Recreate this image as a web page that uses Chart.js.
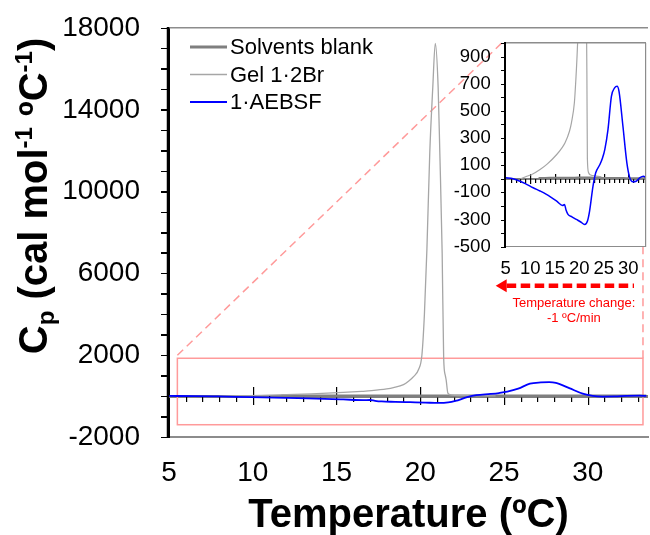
<!DOCTYPE html>
<html lang="en">
<head>
<meta charset="UTF-8">
<title>Cp vs Temperature</title>
<script src="https://cdn.jsdelivr.net/npm/chart.js"></script>
<style>
body { margin: 0; background: #fff; }
#wrap { position: relative; width: 650px; height: 535px; }
#main { position: absolute; left: 0; top: 0; }
#inset { position: absolute; left: 440px; top: 30px; }
</style>
</head>
<body>
<div id="wrap">
  <canvas id="main" width="650" height="535"></canvas>
  <canvas id="inset" width="210" height="310"></canvas>
</div>
<script>
// ---- data ----
const blankT  = [11.7, 13, 15, 17, 19, 21, 23, 25, 27, 29, 31, 33.5];
const blankCp = [6, 6, 8, 8, 8, 10, 8, 6, 6, 5, 4, 4];

const gelT  = [8.0, 9.3, 10.5, 12.0, 13.5, 15.4, 16.5, 17.1, 18.0, 18.4, 19.0, 19.3, 19.6, 19.9, 20.1, 20.25, 20.4, 20.57, 20.75, 20.9, 21.07, 21.17, 21.31, 21.4, 21.5, 21.55, 21.65, 21.9, 22.2, 23.5, 24.5];
const gelCp = [0, 19, 35, 68, 110, 179, 230, 265, 350, 412, 560, 730, 950, 1300, 2000, 4000, 7200, 11900, 15100, 17250, 15100, 11900, 7000, 1850, 1000, 780, 150, 45, 30, 20, 15];

const aebsfT  = [5.0, 6.5, 7.9, 9.0, 10.6, 12.0, 13.3, 15.4, 16.6, 17.0, 17.3, 17.7, 18.5, 19.4, 20.3, 21.1, 21.67, 22.1, 22.8, 23.35, 24.2, 24.7, 25.2, 25.85, 26.55, 27.2, 27.7, 28.1, 28.9, 29.7, 30.3, 30.9, 31.6, 32.3, 33.1, 33.5];
const aebsfCp = [7, 0, -18, -35, -66, -90, -115, -165, -196, -190, -230, -262, -280, -299, -318, -336, -311, -238, -54, 44, 105, 150, 215, 362, 607, 669, 681, 644, 387, 118, 7, -22, -18, 7, 19, 10];

const seriesNames = ['Solvents blank', 'Gel 1\u00B72Br', '1\u00B7AEBSF'];

const mainXTicks = [5, 10, 15, 20, 25, 30];
const mainYLabels = [-2000, 2000, 6000, 10000, 14000, 18000];
const insetXTicks = [5, 10, 15, 20, 25, 30];
const insetYLabels = [-500, -300, -100, 100, 300, 500, 700, 900];

// zoomed region marked on the main plot
const zoomBox = { x0: 5.5, x1: 33.3, y0: -1400, y1: 1850 };

const FONT = '"Liberation Sans", Arial, sans-serif';

function pts(xs, ys) { return xs.map((x, i) => ({ x: x, y: ys[i] })); }

function makeDatasets(w) {
    return [
        { label: seriesNames[0], data: pts(blankT, blankCp), borderColor: '#7f7f7f', borderWidth: w.blank, order: 2 },
        { label: seriesNames[1], data: pts(gelT, gelCp), borderColor: '#a6a6a6', borderWidth: w.gel, order: 1 },
        { label: seriesNames[2], data: pts(aebsfT, aebsfCp), borderColor: '#0000ff', borderWidth: w.blue, order: 0 }
    ].map(d => Object.assign(d, { showLine: true, pointRadius: 0, fill: false, cubicInterpolationMode: 'monotone' }));
}

// no extra room for the first/last y label
function fixY(width) {
    return s => { s.width = width; s.paddingTop = 0; s.paddingBottom = 0; };
}

// plot edges taken from the scales themselves
function edges(chart) {
    const { x, y } = chart.scales;
    return {
        L: Math.round(x.getPixelForValue(x.min)),
        R: Math.round(x.getPixelForValue(x.max)),
        T: Math.round(y.getPixelForValue(y.max)),
        B: Math.round(y.getPixelForValue(y.min))
    };
}

// left value axis with outward ticks
function drawValueAxis(ctx, chart, tick, w) {
    const y = chart.scales.y;
    const { L, T, B } = edges(chart);
    ctx.save();
    ctx.strokeStyle = '#000';
    ctx.lineWidth = 1.2;
    ctx.beginPath();
    y.ticks.forEach(t => {
        const py = Math.round(y.getPixelForValue(t.value)) + 0.5;
        ctx.moveTo(L - tick, py); ctx.lineTo(L, py);
    });
    ctx.stroke();
    ctx.lineWidth = w;
    ctx.beginPath(); ctx.moveTo(L - 1, T - 1); ctx.lineTo(L - 1, B + 1); ctx.stroke();
    ctx.restore();
}

// axis through y = 0 with ticks, grey frame lines
const zeroAxis = {
    id: 'zeroAxis',
    beforeDatasetsDraw(chart, args, o) {
        const { ctx, scales: { x, y } } = chart;
        const { L, R } = edges(chart);
        const y0 = Math.round(y.getPixelForValue(0));
        ctx.save();
        ctx.fillStyle = '#808080';
        ctx.fillRect(L, y0 - Math.floor(o.width / 2), R - L, o.width);
        ctx.fillStyle = '#000';
        for (let t = Math.floor(x.min) + 1; t <= x.max; t++) {
            const px = Math.round(x.getPixelForValue(t));
            if (t % 5 === 0) ctx.fillRect(px, y0 - o.major, 1.2, 2 * o.major);
            else ctx.fillRect(px, y0, 1.2, o.minor);
        }
        ctx.restore();
    },
    afterDraw(chart, args, o) {
        const { ctx } = chart;
        const { L, R, T, B } = edges(chart);
        ctx.save();
        ctx.fillStyle = '#8c8c8c';
        ctx.fillRect(L, T - 1, R - L, 1.5);
        if (o.frameRight) ctx.fillRect(R - 1, T, 1.2, B - T);
        ctx.restore();
        drawValueAxis(ctx, chart, o.yTick, 2);
    }
};

// ---- inset ----
const insetDecor = {
    id: 'insetDecor',
    afterDraw(chart) {
        const { ctx, chartArea: a } = chart;
        const ay = a.bottom + 39;
        const tipX = a.left - 10;
        ctx.save();
        ctx.fillStyle = '#ff0000';
        ctx.strokeStyle = '#ff0000';
        ctx.beginPath();
        ctx.moveTo(tipX, ay); ctx.lineTo(tipX + 11, ay - 6.5); ctx.lineTo(tipX + 11, ay + 6.5);
        ctx.closePath(); ctx.fill();
        ctx.lineWidth = 4.5;
        ctx.setLineDash([9.5, 4.5]);
        ctx.beginPath(); ctx.moveTo(tipX + 11, ay); ctx.lineTo(a.right - 12, ay); ctx.stroke();
        ctx.setLineDash([]);
        ctx.font = '13px ' + FONT;
        ctx.textAlign = 'center';
        ctx.textBaseline = 'middle';
        const cx = (a.left + a.right) / 2 - 2;
        ctx.fillText('Temperature change:', cx, a.bottom + 56.5);
        ctx.fillText('-1 \u00BAC/min', cx, a.bottom + 71.5);
        ctx.restore();
    }
};

const insetChart = new Chart(document.getElementById('inset'), {
    type: 'scatter',
    data: { datasets: makeDatasets({ blank: 2, gel: 1.2, blue: 1.5 }) },
    options: {
        responsive: false,
        animation: false,
        layout: { padding: { top: 13, right: 3, left: 0, bottom: 0 } },
        plugins: {
            legend: { display: false },
            tooltip: { enabled: false },
            zeroAxis: { width: 2, major: 5, minor: 4, yTick: 5, frameRight: true }
        },
        scales: {
            x: {
                type: 'linear', min: 5, max: 33.6,
                afterBuildTicks: s => { s.ticks = insetXTicks.map(v => ({ value: v })); },
                afterFit: s => { s.height = 93.3; },
                grid: { display: false, drawTicks: false },
                border: { color: '#8c8c8c', width: 1 },
                ticks: { padding: 11, maxRotation: 0, autoSkip: false, color: '#000', font: { family: FONT, size: 18.5 }, callback: v => String(v) }
            },
            y: {
                min: -500, max: 1000,
                afterFit: fixY(65.7),
                grid: { display: false, drawTicks: false },
                border: { display: false },
                ticks: { stepSize: 100, autoSkip: false, padding: 15, color: '#000', font: { family: FONT, size: 18.5 },
                    callback: v => insetYLabels.includes(v) ? String(v) : '' }
            }
        }
    },
    plugins: [zeroAxis, insetDecor]
});

// ---- main chart ----
function drawRotatedTitle(ctx, parts, baseX, cy, size) {
    let total = 0;
    parts.forEach(p => {
        ctx.font = 'bold ' + (size * p.s) + 'px ' + FONT;
        p.w = ctx.measureText(p.t).width;
        total += p.w;
    });
    ctx.save();
    ctx.translate(baseX, cy);
    ctx.rotate(-Math.PI / 2);
    ctx.textBaseline = 'alphabetic';
    ctx.textAlign = 'left';
    let x = -total / 2;
    parts.forEach(p => {
        ctx.font = 'bold ' + (size * p.s) + 'px ' + FONT;
        ctx.fillText(p.t, x, p.dy * size);
        x += p.w;
    });
    ctx.restore();
}

const mainDecor = {
    id: 'mainDecor',
    beforeDatasetsDraw(chart) {
        const { ctx, scales: { x, y } } = chart;
        const ia = insetChart.chartArea;
        const off = document.getElementById('inset');
        const insL = off.offsetLeft + ia.left, insT = off.offsetTop + ia.top, insB = off.offsetTop + ia.bottom;
        const rx0 = x.getPixelForValue(zoomBox.x0), rx1 = x.getPixelForValue(zoomBox.x1);
        const ry0 = y.getPixelForValue(zoomBox.y0), ry1 = y.getPixelForValue(zoomBox.y1);
        ctx.save();
        ctx.strokeStyle = '#ff9a9a';
        ctx.lineWidth = 1.5;
        ctx.strokeRect(rx0, ry1, rx1 - rx0, ry0 - ry1);
        ctx.setLineDash([8, 5]);
        ctx.beginPath();
        ctx.moveTo(rx0, ry1 - 3); ctx.lineTo(insL - 4, insT);
        ctx.moveTo(rx1, ry1); ctx.lineTo(rx1, insB);
        ctx.stroke();
        ctx.restore();
    },
    afterDraw(chart) {
        const { ctx, scales: { x } } = chart;
        ctx.save();
        // legend
        ctx.font = '22px ' + FONT;
        ctx.textBaseline = 'middle';
        ctx.fillStyle = '#000';
        chart.data.datasets.forEach((d, i) => {
            const ly = 47 + i * 27.5;
            ctx.strokeStyle = d.borderColor;
            ctx.lineWidth = d.borderWidth;
            ctx.beginPath(); ctx.moveTo(190, ly); ctx.lineTo(227, ly); ctx.stroke();
            ctx.fillText(d.label, 230, ly + 1);
        });
        // x title
        ctx.font = 'bold 40px ' + FONT;
        ctx.textAlign = 'center';
        ctx.textBaseline = 'alphabetic';
        ctx.fillText('Temperature (\u00BAC)', (x.left + x.right) / 2, 527);
        // y title
        drawRotatedTitle(ctx, [
            { t: 'C', s: 1, dy: 0 },
            { t: 'p', s: 0.6, dy: 0.18 },
            { t: ' (cal mol', s: 1, dy: 0 },
            { t: '-1', s: 0.6, dy: -0.38 },
            { t: ' \u00BAC', s: 1, dy: 0 },
            { t: '-1', s: 0.6, dy: -0.38 },
            { t: ')', s: 1, dy: 0 }
        ], 47, 196, 40);
        ctx.restore();
        // value axis once more, last of all
        drawValueAxis(ctx, chart, 8, 2.5);
    }
};

new Chart(document.getElementById('main'), {
    type: 'scatter',
    data: { datasets: makeDatasets({ blank: 3, gel: 1.3, blue: 1.8 }) },
    options: {
        responsive: false,
        animation: false,
        layout: { padding: { top: 28, right: 2, left: 0, bottom: 0 } },
        plugins: {
            legend: { display: false },
            tooltip: { enabled: false },
            zeroAxis: { width: 3, major: 9, minor: 6, yTick: 8, frameRight: false }
        },
        scales: {
            x: {
                type: 'linear', min: 5, max: 33.6,
                afterBuildTicks: s => { s.ticks = mainXTicks.map(v => ({ value: v })); },
                afterFit: s => { s.height = 98; },
                grid: { display: false, drawTicks: false },
                border: { color: '#8c8c8c', width: 2 },
                ticks: { padding: 19, maxRotation: 0, autoSkip: false, color: '#000', font: { family: FONT, size: 28 }, callback: v => String(v) }
            },
            y: {
                min: -2000, max: 18000,
                afterFit: fixY(169),
                grid: { display: true, drawOnChartArea: false, drawTicks: true, tickLength: 8, color: '#000' },
                border: { display: true, color: '#000', width: 2 },
                ticks: { stepSize: 1000, autoSkip: false, padding: 21, color: '#000', font: { family: FONT, size: 28 },
                    callback: v => mainYLabels.includes(v) ? String(v) : '' }
            }
        }
    },
    plugins: [zeroAxis, mainDecor]
});
</script>
</body>
</html>
